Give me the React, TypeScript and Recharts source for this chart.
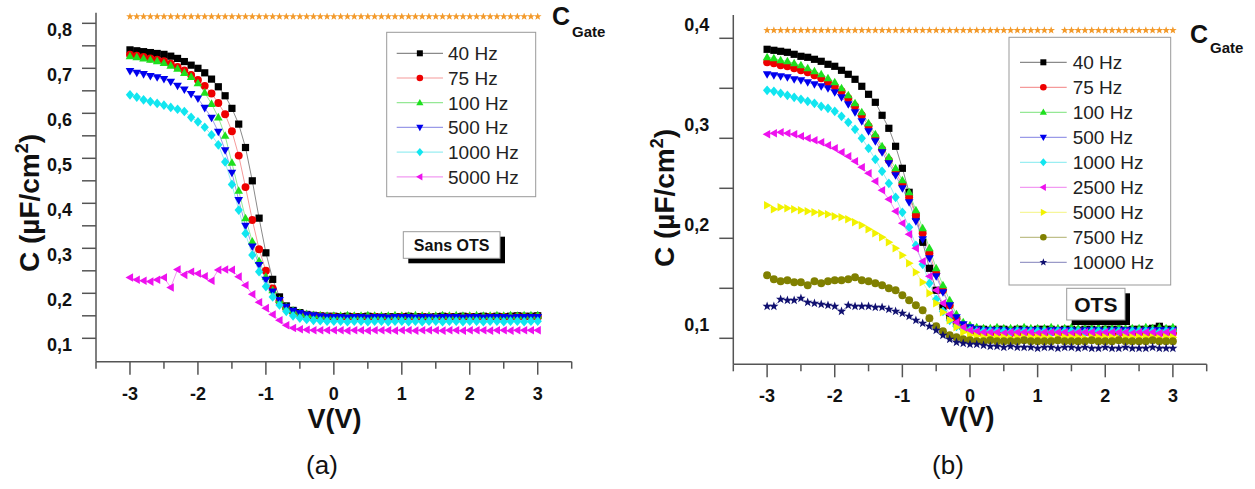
import { LineChart, Line, XAxis, YAxis } from "recharts";

const FONT = '"Liberation Sans", Arial, Helvetica, sans-serif';
const AXIS = "#555";

// bias voltage (V), step 0.1
const V = [
  -3, -2.9, -2.8, -2.7, -2.6, -2.5, -2.4, -2.3, -2.2, -2.1,
  -2, -1.9, -1.8, -1.7, -1.6, -1.5, -1.4, -1.3, -1.2, -1.1,
  -1, -0.9, -0.8, -0.7, -0.6, -0.5, -0.4, -0.3, -0.2, -0.1,
  0, 0.1, 0.2, 0.3, 0.4, 0.5, 0.6, 0.7, 0.8, 0.9,
  1, 1.1, 1.2, 1.3, 1.4, 1.5, 1.6, 1.7, 1.8, 1.9,
  2, 2.1, 2.2, 2.3, 2.4, 2.5, 2.6, 2.7, 2.8, 2.9,
  3,
];

const X_TICKS = [-3.5, -3, -2.5, -2, -1.5, -1, -0.5, 0, 0.5, 1, 1.5, 2, 2.5, 3, 3.5];
const Y_TICKS_A = [0.1, 0.15, 0.2, 0.25, 0.3, 0.35, 0.4, 0.45, 0.5, 0.55, 0.6, 0.65, 0.7, 0.75, 0.8];
const Y_TICKS_B = [0.1, 0.15, 0.2, 0.25, 0.3, 0.35, 0.4];

// ---- panel (a) : Sans OTS
const A_40 = [
  0.741, 0.739, 0.737, 0.735, 0.733, 0.731, 0.727, 0.722, 0.715, 0.707,
  0.700, 0.690, 0.676, 0.659, 0.639, 0.611, 0.576, 0.524, 0.450, 0.367,
  0.290, 0.231, 0.192, 0.172, 0.162, 0.157, 0.153, 0.151, 0.150, 0.149,
  0.149, 0.148, 0.149, 0.148, 0.148, 0.149, 0.148, 0.147, 0.148, 0.148,
  0.148, 0.149, 0.148, 0.148, 0.147, 0.148, 0.149, 0.148, 0.148, 0.149,
  0.148, 0.148, 0.149, 0.148, 0.149, 0.148, 0.149, 0.150, 0.149, 0.149,
  0.150,
];
const A_75 = [
  0.730, 0.728, 0.725, 0.722, 0.719, 0.716, 0.710, 0.703, 0.695, 0.685,
  0.674, 0.661, 0.644, 0.623, 0.598, 0.560, 0.506, 0.436, 0.363, 0.298,
  0.250, 0.211, 0.182, 0.166, 0.158, 0.154, 0.152, 0.150, 0.149, 0.148,
  0.148, 0.147, 0.147, 0.148, 0.147, 0.147, 0.148, 0.147, 0.147, 0.147,
  0.148, 0.147, 0.147, 0.148, 0.147, 0.147, 0.147, 0.148, 0.147, 0.147,
  0.148, 0.147, 0.147, 0.148, 0.147, 0.148, 0.147, 0.148, 0.148, 0.147,
  0.148,
];
const A_100 = [
  0.727, 0.725, 0.722, 0.719, 0.716, 0.712, 0.706, 0.699, 0.690, 0.681,
  0.667, 0.646, 0.621, 0.591, 0.550, 0.490, 0.428, 0.367, 0.315, 0.272,
  0.237, 0.207, 0.185, 0.170, 0.162, 0.157, 0.154, 0.152, 0.151, 0.150,
  0.150, 0.150, 0.151, 0.150, 0.150, 0.151, 0.150, 0.150, 0.150, 0.151,
  0.150, 0.150, 0.151, 0.150, 0.150, 0.150, 0.151, 0.150, 0.151, 0.150,
  0.150, 0.151, 0.150, 0.150, 0.151, 0.150, 0.151, 0.150, 0.151, 0.151,
  0.151,
];
const A_500 = [
  0.694, 0.690, 0.687, 0.683, 0.680, 0.676, 0.670, 0.661, 0.653, 0.643,
  0.633, 0.612, 0.590, 0.559, 0.518, 0.468, 0.407, 0.350, 0.304, 0.263,
  0.230, 0.204, 0.185, 0.170, 0.161, 0.156, 0.153, 0.151, 0.149, 0.148,
  0.147, 0.147, 0.146, 0.147, 0.147, 0.146, 0.147, 0.147, 0.146, 0.147,
  0.147, 0.147, 0.146, 0.147, 0.147, 0.146, 0.147, 0.147, 0.147, 0.146,
  0.147, 0.147, 0.146, 0.147, 0.147, 0.147, 0.146, 0.147, 0.147, 0.147,
  0.147,
];
const A_1000 = [
  0.641, 0.636, 0.630, 0.626, 0.622, 0.618, 0.613, 0.609, 0.604, 0.591,
  0.581, 0.569, 0.552, 0.530, 0.492, 0.442, 0.385, 0.333, 0.285, 0.248,
  0.215, 0.192, 0.174, 0.160, 0.150, 0.145, 0.142, 0.140, 0.139, 0.138,
  0.138, 0.138, 0.137, 0.138, 0.138, 0.137, 0.138, 0.138, 0.137, 0.138,
  0.138, 0.137, 0.138, 0.137, 0.138, 0.138, 0.137, 0.138, 0.138, 0.137,
  0.138, 0.138, 0.137, 0.138, 0.138, 0.137, 0.138, 0.138, 0.137, 0.138,
  0.138,
];
const A_5000 = [
  0.235, 0.230, 0.228, 0.226, 0.230, 0.235, 0.213, 0.253, 0.241, 0.248,
  0.244, 0.238, 0.228, 0.252, 0.253, 0.252, 0.237, 0.218, 0.198, 0.180,
  0.167, 0.153, 0.140, 0.129, 0.123, 0.120, 0.119, 0.118, 0.118, 0.118,
  0.118, 0.118, 0.117, 0.118, 0.118, 0.117, 0.118, 0.118, 0.118, 0.117,
  0.118, 0.118, 0.117, 0.118, 0.118, 0.118, 0.117, 0.118, 0.118, 0.117,
  0.118, 0.118, 0.118, 0.117, 0.118, 0.118, 0.117, 0.118, 0.118, 0.118,
  0.118,
];
const CGATE_A = [
  0.815, 0.815, 0.815, 0.815, 0.815, 0.815, 0.815, 0.815, 0.815, 0.815,
  0.815, 0.815, 0.815, 0.815, 0.815, 0.815, 0.815, 0.815, 0.815, 0.815,
  0.815, 0.815, 0.815, 0.815, 0.815, 0.815, 0.815, 0.815, 0.815, 0.815,
  0.815, 0.815, 0.815, 0.815, 0.815, 0.815, 0.815, 0.815, 0.815, 0.815,
  0.815, 0.815, 0.815, 0.815, 0.815, 0.815, 0.815, 0.815, 0.815, 0.815,
  0.815, 0.815, 0.815, 0.815, 0.815, 0.815, 0.815, 0.815, 0.815, 0.815,
  0.815,
];

// ---- panel (b) : OTS
const B_40 = [
  0.389, 0.388, 0.387, 0.386, 0.384, 0.382, 0.381, 0.379, 0.377, 0.374,
  0.372, 0.368, 0.364, 0.359, 0.352, 0.344, 0.336, 0.323, 0.310, 0.292,
  0.270, 0.246, 0.222, 0.196, 0.170, 0.148, 0.132, 0.121, 0.115, 0.112,
  0.110, 0.109, 0.109, 0.108, 0.109, 0.109, 0.108, 0.109, 0.109, 0.108,
  0.109, 0.109, 0.109, 0.108, 0.109, 0.109, 0.108, 0.109, 0.109, 0.108,
  0.109, 0.109, 0.109, 0.108, 0.109, 0.109, 0.109, 0.110, 0.112, 0.109,
  0.109,
];
const B_75 = [
  0.376, 0.375, 0.373, 0.372, 0.370, 0.368, 0.366, 0.363, 0.360, 0.356,
  0.352, 0.347, 0.340, 0.332, 0.323, 0.312, 0.301, 0.289, 0.278, 0.266,
  0.254, 0.241, 0.223, 0.205, 0.185, 0.165, 0.148, 0.133, 0.120, 0.112,
  0.108, 0.106, 0.105, 0.105, 0.106, 0.105, 0.105, 0.105, 0.106, 0.105,
  0.105, 0.105, 0.106, 0.105, 0.105, 0.105, 0.105, 0.106, 0.105, 0.105,
  0.105, 0.106, 0.105, 0.105, 0.105, 0.106, 0.105, 0.105, 0.105, 0.106,
  0.105,
];
const B_100 = [
  0.381, 0.380, 0.378, 0.377, 0.375, 0.373, 0.370, 0.367, 0.364, 0.360,
  0.356, 0.350, 0.343, 0.335, 0.326, 0.315, 0.304, 0.292, 0.281, 0.270,
  0.258, 0.246, 0.228, 0.210, 0.190, 0.170, 0.153, 0.138, 0.124, 0.116,
  0.113, 0.111, 0.110, 0.110, 0.111, 0.110, 0.110, 0.110, 0.111, 0.110,
  0.110, 0.110, 0.111, 0.110, 0.110, 0.111, 0.110, 0.110, 0.110, 0.111,
  0.110, 0.110, 0.111, 0.110, 0.110, 0.110, 0.111, 0.110, 0.111, 0.110,
  0.111,
];
const B_500 = [
  0.364, 0.363, 0.362, 0.361, 0.359, 0.358, 0.356, 0.354, 0.352, 0.350,
  0.346, 0.341, 0.334, 0.326, 0.317, 0.307, 0.297, 0.286, 0.275, 0.263,
  0.250, 0.236, 0.217, 0.199, 0.180, 0.162, 0.146, 0.133, 0.121, 0.114,
  0.111, 0.109, 0.108, 0.108, 0.108, 0.108, 0.107, 0.108, 0.108, 0.108,
  0.108, 0.107, 0.108, 0.108, 0.108, 0.108, 0.107, 0.108, 0.108, 0.108,
  0.107, 0.108, 0.108, 0.108, 0.108, 0.107, 0.108, 0.108, 0.108, 0.108,
  0.108,
];
const B_1000 = [
  0.348, 0.347, 0.345, 0.343, 0.341, 0.339, 0.337, 0.335, 0.332, 0.330,
  0.327, 0.322, 0.316, 0.309, 0.300, 0.290, 0.279, 0.267, 0.255, 0.241,
  0.226, 0.211, 0.193, 0.174, 0.155, 0.139, 0.127, 0.118, 0.112, 0.109,
  0.108, 0.107, 0.107, 0.107, 0.107, 0.107, 0.106, 0.107, 0.107, 0.107,
  0.107, 0.107, 0.106, 0.107, 0.107, 0.107, 0.107, 0.106, 0.107, 0.107,
  0.107, 0.107, 0.107, 0.106, 0.107, 0.107, 0.107, 0.107, 0.106, 0.107,
  0.107,
];
const B_2500 = [
  0.304, 0.305, 0.306, 0.305, 0.304, 0.302, 0.300, 0.298, 0.296, 0.293,
  0.290, 0.286, 0.282, 0.277, 0.271, 0.265, 0.257, 0.248, 0.239, 0.227,
  0.215, 0.204, 0.190, 0.177, 0.162, 0.148, 0.135, 0.124, 0.116, 0.111,
  0.108, 0.107, 0.106, 0.106, 0.106, 0.105, 0.106, 0.106, 0.106, 0.106,
  0.105, 0.106, 0.106, 0.106, 0.106, 0.105, 0.106, 0.106, 0.106, 0.105,
  0.106, 0.106, 0.106, 0.106, 0.105, 0.106, 0.106, 0.106, 0.105, 0.106,
  0.106,
];
const B_5000 = [
  0.233, 0.229, 0.231, 0.230, 0.229, 0.228, 0.227, 0.226, 0.225, 0.224,
  0.222, 0.221, 0.219, 0.216, 0.213, 0.209, 0.205, 0.201, 0.196, 0.190,
  0.183, 0.175, 0.166, 0.156, 0.145, 0.135, 0.126, 0.118, 0.111, 0.106,
  0.103, 0.102, 0.101, 0.101, 0.101, 0.101, 0.100, 0.101, 0.101, 0.101,
  0.101, 0.101, 0.100, 0.101, 0.101, 0.101, 0.101, 0.100, 0.101, 0.101,
  0.101, 0.101, 0.100, 0.101, 0.101, 0.101, 0.101, 0.101, 0.100, 0.101,
  0.101,
];
const B_7500 = [
  0.163, 0.159, 0.157, 0.158, 0.156, 0.156, 0.153, 0.157, 0.155, 0.157,
  0.158, 0.158, 0.159, 0.161, 0.158, 0.157, 0.155, 0.153, 0.150, 0.148,
  0.143, 0.138, 0.133, 0.128, 0.120, 0.112, 0.107, 0.103, 0.101, 0.099,
  0.098, 0.097, 0.097, 0.098, 0.097, 0.097, 0.097, 0.097, 0.098, 0.097,
  0.097, 0.097, 0.097, 0.098, 0.097, 0.097, 0.097, 0.097, 0.098, 0.097,
  0.097, 0.097, 0.098, 0.097, 0.097, 0.097, 0.097, 0.098, 0.097, 0.097,
  0.097,
];
const B_10000 = [
  0.132, 0.132, 0.139, 0.138, 0.138, 0.140, 0.136, 0.135, 0.134, 0.133,
  0.132, 0.127, 0.133, 0.132, 0.132, 0.132, 0.131, 0.131, 0.129, 0.127,
  0.125, 0.122, 0.118, 0.115, 0.112, 0.108, 0.103, 0.099, 0.096, 0.095,
  0.094, 0.094, 0.093, 0.092, 0.092, 0.091, 0.092, 0.091, 0.091, 0.091,
  0.090, 0.091, 0.091, 0.090, 0.091, 0.091, 0.090, 0.091, 0.090, 0.090,
  0.091, 0.090, 0.090, 0.091, 0.090, 0.090, 0.090, 0.091, 0.090, 0.090,
  0.090,
];
const CGATE_B = [
  0.408, 0.408, 0.408, 0.408, 0.408, 0.408, 0.408, 0.408, 0.408, 0.408,
  0.408, 0.408, 0.408, 0.408, 0.408, 0.408, 0.408, 0.408, 0.408, 0.408,
  0.408, 0.408, 0.408, 0.408, 0.408, 0.408, 0.408, 0.408, 0.408, 0.408,
  0.408, 0.408, 0.408, 0.408, 0.408, 0.408, 0.408, 0.408, 0.408, 0.408,
  0.408, 0.408, 0.408, null, 0.408, 0.408, 0.408, 0.408, 0.408, 0.408,
  0.408, 0.408, 0.408, 0.408, 0.408, 0.408, 0.408, 0.408, 0.408, 0.408,
  0.408,
];

type Shape = "square" | "circle" | "up" | "down" | "diamond" | "left" | "right" | "star";
type Series = { key: string; name: string; color: string; line: string; shape: Shape; values: (number | null)[] };

const SERIES_A: Series[] = [
  { key: "a40", name: "40 Hz", color: "#000000", line: "#8a8a8a", shape: "square", values: A_40 },
  { key: "a75", name: "75 Hz", color: "#ee0000", line: "#f59a9a", shape: "circle", values: A_75 },
  { key: "a100", name: "100 Hz", color: "#1ee01e", line: "#95e895", shape: "up", values: A_100 },
  { key: "a500", name: "500 Hz", color: "#0000ee", line: "#9a9ae8", shape: "down", values: A_500 },
  { key: "a1000", name: "1000 Hz", color: "#11e6f0", line: "#9aeef2", shape: "diamond", values: A_1000 },
  { key: "a5000", name: "5000 Hz", color: "#ee11ee", line: "#f29af2", shape: "left", values: A_5000 },
];

const SERIES_B: Series[] = [
  { key: "b40", name: "40 Hz", color: "#000000", line: "#8a8a8a", shape: "square", values: B_40 },
  { key: "b75", name: "75 Hz", color: "#ee0000", line: "#f59a9a", shape: "circle", values: B_75 },
  { key: "b100", name: "100 Hz", color: "#1ee01e", line: "#95e895", shape: "up", values: B_100 },
  { key: "b500", name: "500 Hz", color: "#0000ee", line: "#9a9ae8", shape: "down", values: B_500 },
  { key: "b1000", name: "1000 Hz", color: "#11e6f0", line: "#9aeef2", shape: "diamond", values: B_1000 },
  { key: "b2500", name: "2500 Hz", color: "#ee11ee", line: "#f29af2", shape: "left", values: B_2500 },
  { key: "b5000", name: "5000 Hz", color: "#f2f200", line: "#f6f69a", shape: "right", values: B_5000 },
  { key: "b7500", name: "7500 Hz", color: "#808000", line: "#c0c08a", shape: "circle", values: B_7500 },
  { key: "b10000", name: "10000 Hz", color: "#101070", line: "#9a9ac8", shape: "star", values: B_10000 },
];

const CGATE_COLOR = "#f39a2b";

function starPoints(cx: number, cy: number, ro: number, ri: number) {
  const pts: string[] = [];
  for (let i = 0; i < 10; i++) {
    const r = i % 2 === 0 ? ro : ri;
    const a = -Math.PI / 2 + (i * Math.PI) / 5;
    pts.push(`${cx + r * Math.cos(a)},${cy + r * Math.sin(a)}`);
  }
  return pts.join(" ");
}

function Marker({ shape, cx, cy, fill, s }: { shape: Shape; cx: number; cy: number; fill: string; s: number }) {
  switch (shape) {
    case "square":
      return <rect x={cx - s} y={cy - s} width={2 * s} height={2 * s} fill={fill} />;
    case "circle":
      return <circle cx={cx} cy={cy} r={s * 1.1} fill={fill} />;
    case "up":
      return <polygon points={`${cx},${cy - s * 1.25} ${cx - s * 1.2},${cy + s * 0.85} ${cx + s * 1.2},${cy + s * 0.85}`} fill={fill} />;
    case "down":
      return <polygon points={`${cx},${cy + s * 1.25} ${cx - s * 1.2},${cy - s * 0.85} ${cx + s * 1.2},${cy - s * 0.85}`} fill={fill} />;
    case "left":
      return <polygon points={`${cx - s * 1.25},${cy} ${cx + s * 0.85},${cy - s * 1.2} ${cx + s * 0.85},${cy + s * 1.2}`} fill={fill} />;
    case "right":
      return <polygon points={`${cx + s * 1.25},${cy} ${cx - s * 0.85},${cy - s * 1.2} ${cx - s * 0.85},${cy + s * 1.2}`} fill={fill} />;
    case "diamond":
      return <polygon points={`${cx},${cy - s * 1.35} ${cx + s * 1.15},${cy} ${cx},${cy + s * 1.35} ${cx - s * 1.15},${cy}`} fill={fill} />;
    case "star":
      return <polygon points={starPoints(cx, cy, s * 1.35, s * 0.55)} fill={fill} />;
  }
  return null;
}

const dotFor = (shape: Shape, fill: string, s: number) => (p: any) => {
  if (p == null || p.cx == null || p.cy == null || p.value == null || Number.isNaN(p.cy)) {
    return <g key={`e${p?.index}`} />;
  }
  return (
    <g key={`d${p.index}`}>
      <Marker shape={shape} cx={p.cx} cy={p.cy} fill={fill} s={s} />
    </g>
  );
};

const XTick = (props: any) => {
  const { x, y, payload } = props;
  const v = payload.value as number;
  const major = Math.abs(v - Math.round(v)) < 1e-6;
  const showLabel = major && Math.abs(v) <= 3;
  return (
    <g>
      <line x1={x} x2={x} y1={y} y2={y + (major ? 13 : 7)} stroke={AXIS} strokeWidth={1.5} />
      {showLabel && (
        <text x={x} y={y + 38} textAnchor="middle" fontFamily={FONT} fontWeight="bold" fontSize={18} fill="#111">
          {String(v)}
        </text>
      )}
    </g>
  );
};

const makeYTick = (labelDy: number) => (props: any) => {
  const { x, y, payload } = props;
  const v = payload.value as number;
  const major = Math.round(v * 100) % 10 === 0;
  return (
    <g>
      <line x1={x} x2={x - 14} y1={y} y2={y} stroke={AXIS} strokeWidth={1.5} />
      {major && (
        <text x={x - 24} y={y + labelDy} textAnchor="end" fontFamily={FONT} fontWeight="bold" fontSize={18} fill="#111">
          {v.toFixed(1).replace(".", ",")}
        </text>
      )}
    </g>
  );
};

function buildRows(series: Series[], cgate: (number | null)[]) {
  return V.map((v, i) => {
    const row: Record<string, number | null> = { v, cg: cgate[i] };
    series.forEach((s) => (row[s.key] = s.values[i]));
    return row;
  });
}

function Panel({
  left, width, series, cgate, yDomain, yTicks, yAxisWidth, top, bottom, labelDy,
}: {
  left: number; width: number; series: Series[]; cgate: (number | null)[];
  yDomain: [number, number]; yTicks: number[]; yAxisWidth: number; top: number; bottom: number; labelDy: number;
}) {
  const rows = buildRows(series, cgate);
  return (
    <div style={{ position: "absolute", left, top: 0, width, height: 489 }}>
      <LineChart width={width} height={489} data={rows} margin={{ top, right: 48.3, bottom, left: 0 }}>
        <XAxis
          type="number" dataKey="v" domain={[-3.5, 3.5]} ticks={X_TICKS} interval={0}
          allowDataOverflow height={40} tickSize={0} tickMargin={0} tickLine={false}
          axisLine={{ stroke: AXIS, strokeWidth: 1.5 }} tick={XTick}
        />
        <YAxis
          type="number" domain={yDomain} ticks={yTicks} interval={0} allowDataOverflow
          width={yAxisWidth} tickSize={0} tickMargin={0} tickLine={false}
          axisLine={{ stroke: AXIS, strokeWidth: 1.5 }} tick={makeYTick(labelDy)}
        />
        <Line
          dataKey="cg" stroke="none" isAnimationActive={false} activeDot={false}
          dot={dotFor("star", CGATE_COLOR, 3.0)} legendType="none"
        />
        {series.map((s) => (
          <Line
            key={s.key} dataKey={s.key} name={s.name} stroke={s.line} strokeWidth={1}
            isAnimationActive={false} activeDot={false} dot={dotFor(s.shape, s.color, 3.6)}
          />
        ))}
      </LineChart>
    </div>
  );
}

function LegendBox({ x, y, w, h, firstY, step, series, lineX1, lineX2, textX }: {
  x: number; y: number; w: number; h: number; firstY: number; step: number; series: Series[];
  lineX1: number; lineX2: number; textX: number;
}) {
  const mx = (lineX1 + lineX2) / 2;
  return (
    <g>
      <rect x={x} y={y} width={w} height={h} fill="#fff" stroke="#999" strokeWidth={1} />
      {series.map((s, i) => {
        const cy = firstY + i * step;
        return (
          <g key={s.key}>
            <line x1={lineX1} x2={lineX2} y1={cy} y2={cy} stroke={s.line} strokeWidth={1.2} />
            <Marker shape={s.shape} cx={mx} cy={cy} fill={s.color} s={3} />
            <text x={textX} y={cy + 7} fontFamily={FONT} fontSize={19} fill="#222">{s.name}</text>
          </g>
        );
      })}
    </g>
  );
}

function ShadowBox({ x, y, w, h, label, size }: { x: number; y: number; w: number; h: number; label: string; size: number }) {
  return (
    <g>
      <rect x={x + 5} y={y + 5} width={w} height={h} fill="#000" />
      <rect x={x} y={y} width={w} height={h} fill="#fff" stroke="#999" strokeWidth={1} />
      <text x={x + w / 2} y={y + h / 2 + size * 0.36} textAnchor="middle" fontFamily={FONT} fontWeight="bold" fontSize={size} fill="#111">
        {label}
      </text>
    </g>
  );
}

function YTitle({ x, y }: { x: number; y: number }) {
  return (
    <text x={x} y={y} transform={`rotate(-90 ${x} ${y})`} textAnchor="middle" fontFamily={FONT} fontWeight="bold" fontSize={28} fill="#111">
      C (µF/cm<tspan dy={-11} fontSize={18}>2</tspan><tspan dy={11}>)</tspan>
    </text>
  );
}

export default function App() {
  return (
    <div style={{ position: "absolute", left: 0, top: 0, width: 1255, height: 489, background: "#fff", overflow: "hidden" }}>
      <Panel
        left={0} width={620} series={SERIES_A} cgate={CGATE_A} yDomain={[0.048, 0.8236]}
        yTicks={Y_TICKS_A} yAxisWidth={96} top={12.7} bottom={87.3} labelDy={13}
      />
      <Panel
        left={620} width={635} series={SERIES_B} cgate={CGATE_B} yDomain={[0.074, 0.4233]}
        yTicks={Y_TICKS_B} yAxisWidth={113.3} top={15} bottom={84.7} labelDy={-7}
      />
      <svg width={1255} height={489} style={{ position: "absolute", left: 0, top: 0, pointerEvents: "none" }}>
        {/* panel (a) */}
        <YTitle x={39} y={203} />
        <text x={334.5} y={428} textAnchor="middle" fontFamily={FONT} fontWeight="bold" fontSize={27} fill="#111">V(V)</text>
        <text x={322} y={474} textAnchor="middle" fontFamily={FONT} fontSize={26} fill="#111">(a)</text>
        <text x={552} y={25} fontFamily={FONT} fontWeight="bold" fontSize={25} fill="#111">C</text>
        <text x={572} y={37} fontFamily={FONT} fontWeight="bold" fontSize={15} fill="#111">Gate</text>
        <LegendBox x={386.7} y={32.3} w={149} h={164.4} firstY={53.3} step={24.7} series={SERIES_A}
          lineX1={396.7} lineX2={443} textX={448} />
        <ShadowBox x={403.3} y={231.7} w={96.7} h={26.6} label="Sans OTS" size={16} />

        {/* panel (b) */}
        <YTitle x={674} y={198} />
        <text x={967.5} y={426} textAnchor="middle" fontFamily={FONT} fontWeight="bold" fontSize={27} fill="#111">V(V)</text>
        <text x={948} y={474} textAnchor="middle" fontFamily={FONT} fontSize={26} fill="#111">(b)</text>
        <text x={1190} y={43} fontFamily={FONT} fontWeight="bold" fontSize={25} fill="#111">C</text>
        <text x={1210} y={53} fontFamily={FONT} fontWeight="bold" fontSize={15} fill="#111">Gate</text>
        <LegendBox x={1009} y={37.3} w={161.7} h={247.7} firstY={62.3} step={25} series={SERIES_B}
          lineX1={1020} lineX2={1066.7} textX={1072.7} />
        <ShadowBox x={1066.7} y={288.3} w={58.3} h={31.7} label="OTS" size={21} />
      </svg>
    </div>
  );
}
